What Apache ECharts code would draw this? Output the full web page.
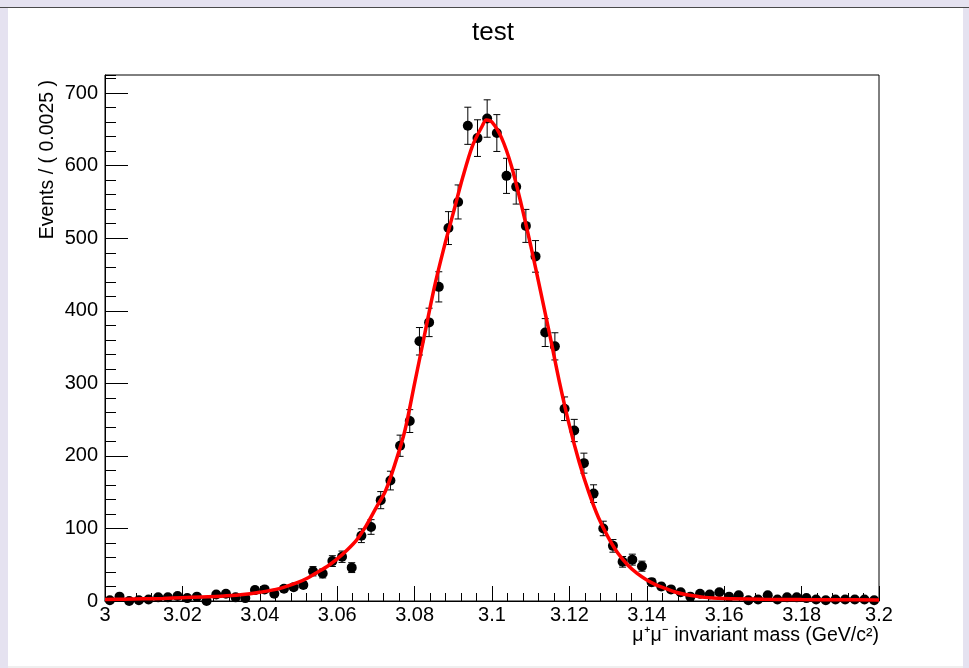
<!DOCTYPE html>
<html>
<head>
<meta charset="utf-8">
<script src="https://cdn.jsdelivr.net/npm/echarts@6/dist/echarts.min.js"></script>
<style>
  html, body { margin: 0; padding: 0; width: 969px; height: 668px; overflow: hidden; background: #e5e2f0; }
  #topline { position: absolute; left: 0; top: 7px; width: 969px; height: 1px; background: #4a4a4a; }
  #canvasbg { position: absolute; left: 8px; top: 8px; width: 955px; height: 658px; background: #ffffff; }
  #bottomstrip { position: absolute; left: 8px; top: 666px; width: 955px; height: 2px; background: #efefef; }
  #chart { position: absolute; left: 0; top: 0; width: 969px; height: 668px; }
</style>
</head>
<body>
<div id="topline"></div>
<div id="canvasbg"></div>
<div id="bottomstrip"></div>
<div id="chart"></div>
<script>
// ---- Data ----
const binLow = 3.0;
const binWidth = 0.0025;
// Events per bin (80 bins from 3.0 to 3.2)
const counts = [
  1, 6, 0, 1, 2, 5, 5, 7, 4, 6,
  0, 9, 10, 5, 4, 15, 16, 10, 17, 19,
  22, 41, 38, 55, 61, 46, 90, 102, 139, 166,
  214, 248, 358, 384, 433, 514, 550, 655, 638, 665,
  645, 586, 571, 517, 475, 370, 351, 265, 235, 190,
  148, 100, 76, 54, 57, 48, 26, 20, 16, 12,
  6, 10, 9, 12, 6, 8, 1, 2, 8, 2,
  5, 5, 4, 2, 1, 2, 2, 2, 2, 1
];
// Fit curve samples
const curveX = [3.000,3.005,3.010,3.015,3.020,3.025,3.030,3.035,3.040,3.045,3.050,3.0525,3.055,3.0575,3.060,3.0625,3.065,3.0675,3.070,3.0725,3.075,3.0775,3.080,3.0825,3.085,3.0875,3.090,3.0925,3.095,3.0975,3.0985,3.100,3.1025,3.105,3.1075,3.110,3.1125,3.115,3.1175,3.120,3.1225,3.125,3.1275,3.130,3.1325,3.135,3.1375,3.140,3.1425,3.145,3.1475,3.150,3.155,3.160,3.170,3.180,3.190,3.200];
const curveY = [2,2.5,3,3.5,4.5,5.5,6.5,8.5,12,17,26,32,40,48,58,70,84,104,128,152,190,235,300,365,430,485,535,585,628,655,663,660,638,600,548,490,428,365,300,242,192,150,115,88,66,50,38,29,22,17,12,9,5,3.5,2.5,2,1.8,1.5];
const yTickLabels = ['0','100','200','300','400','500','600','700'];
const titleText = 'test';
const yTitle = 'Events / ( 0.0025 )';
const xTitle = 'μ\u207Aμ\u207B invariant mass (GeV/c\u00B2)';

// ---- Build series data ----
const centers = counts.map((c, i) => +(binLow + (i + 0.5) * binWidth).toFixed(5));
const points = counts.map((c, i) => [centers[i], c]);
const errBars = counts.map((c, i) => {
  const lo = c > 0 ? c - Math.sqrt(c) : 0;
  const hi = c > 0 ? c + Math.sqrt(c) : 1.15;
  return [centers[i], lo, hi];
});
const curve = curveX.map((x, i) => [x, curveY[i]]);

const FONT = '"Liberation Sans", Arial, Helvetica, sans-serif';
const chart = echarts.init(document.getElementById('chart'), null, { renderer: 'canvas' });

const option = {
  backgroundColor: 'transparent',
  animation: false,
  grid: {
    left: 105, right: 90, top: 75, bottom: 67,
    show: true, borderColor: '#000', borderWidth: 1, backgroundColor: 'transparent'
  },
  xAxis: [{
    type: 'value', min: 3.0, max: 3.2, interval: 0.02,
    axisLine: { show: true, onZero: false, lineStyle: { color: '#000', width: 1 } },
    axisTick: { show: true, inside: true, length: 15, lineStyle: { color: '#000' } },
    minorTick: { show: true, splitNumber: 5, length: 8, lineStyle: { color: '#000' } },
    splitLine: { show: false },
    axisLabel: {
      color: '#000', fontSize: 20, fontFamily: FONT, margin: 4,
      formatter: v => String(+v.toFixed(2))
    }
  }],
  yAxis: [{
    type: 'value', min: 0, max: 725, interval: 100,
    axisLine: { show: true, lineStyle: { color: '#000', width: 1 } },
    axisTick: { show: true, inside: true, length: 23, lineStyle: { color: '#000' } },
    splitLine: { show: false },
    axisLabel: {
      color: '#000', fontSize: 20, fontFamily: FONT, margin: 7,
      showMaxLabel: false,
      formatter: v => {
        const idx = Math.round(v / 100);
        return (Math.abs(v - idx * 100) < 1e-6 && yTickLabels[idx] !== undefined) ? yTickLabels[idx] : '';
      }
    }
  }, {
    type: 'value', min: 0, max: 725, interval: 20, position: 'left',
    axisLine: { show: false },
    axisTick: { show: true, inside: true, length: 11, lineStyle: { color: '#000' } },
    splitLine: { show: false },
    axisLabel: { show: false }
  }],
  graphic: [
    { type: 'text', x: 493, y: 33, z: 100,
      style: { text: titleText, fill: '#000', font: '26px ' + FONT, textAlign: 'center', textVerticalAlign: 'middle' } },
    { type: 'text', x: 48, y: 80, rotation: Math.PI / 2, z: 100,
      style: { text: yTitle, fill: '#000', font: '19.5px ' + FONT, textAlign: 'right', textVerticalAlign: 'middle' } },
    { type: 'text', x: 879, y: 636, z: 100,
      style: { text: xTitle, fill: '#000', font: '19.5px ' + FONT, textAlign: 'right', textVerticalAlign: 'middle' } }
  ],
  series: [
    {
      type: 'custom', name: 'errors', z: 2,
      renderItem: (params, api) => {
        const x = api.value(0);
        const p1 = api.coord([x, api.value(1)]);
        const p2 = api.coord([x, api.value(2)]);
        const cap = 3.5;
        return {
          type: 'group',
          children: [
            { type: 'line', shape: { x1: p1[0], y1: p1[1], x2: p2[0], y2: p2[1] }, style: { stroke: '#000', lineWidth: 1 } },
            { type: 'line', shape: { x1: p1[0] - cap, y1: p1[1], x2: p1[0] + cap, y2: p1[1] }, style: { stroke: '#000', lineWidth: 1 } },
            { type: 'line', shape: { x1: p2[0] - cap, y1: p2[1], x2: p2[0] + cap, y2: p2[1] }, style: { stroke: '#000', lineWidth: 1 } }
          ]
        };
      },
      encode: { x: 0, y: [1, 2] },
      data: errBars
    },
    {
      type: 'scatter', name: 'data', z: 3,
      symbol: 'circle', symbolSize: 10,
      itemStyle: { color: '#000', opacity: 1 },
      data: points
    },
    {
      type: 'line', name: 'fit', z: 4,
      smooth: 0.3, symbol: 'none',
      lineStyle: { color: '#ff0000', width: 3.5 },
      data: curve
    }
  ]
};
chart.setOption(option);
</script>
</body>
</html>
